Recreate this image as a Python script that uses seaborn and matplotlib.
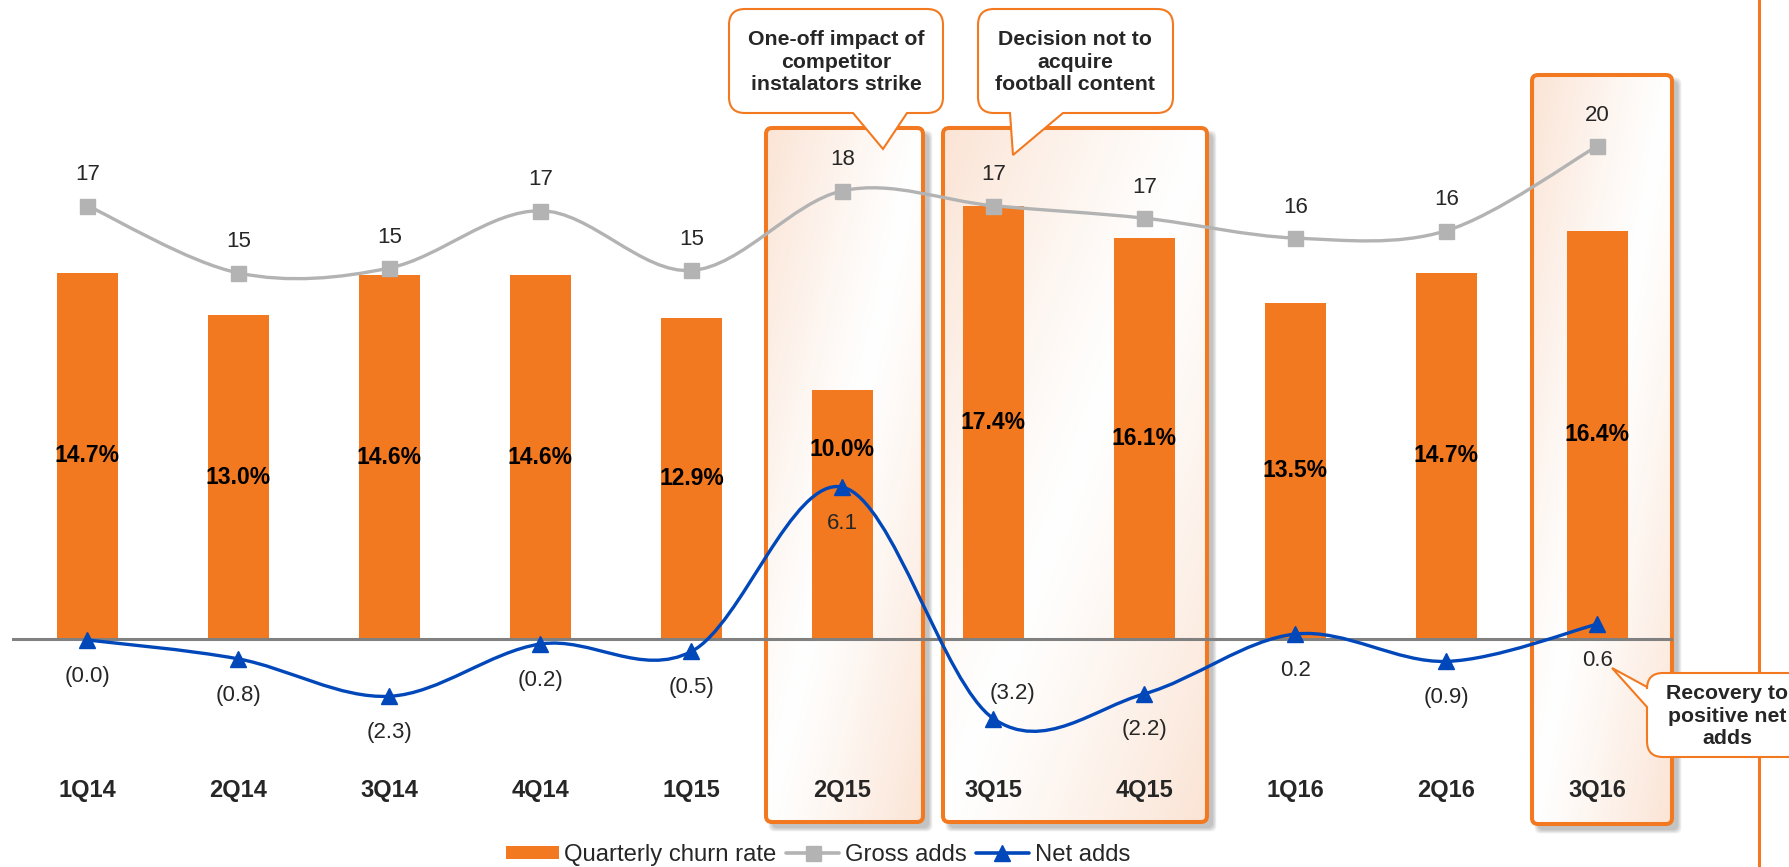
import numpy as np
import pandas as pd
import matplotlib
matplotlib.use("Agg")
import matplotlib.pyplot as plt
import seaborn as sns
from matplotlib.path import Path
from matplotlib.patches import PathPatch, FancyBboxPatch, Patch
from matplotlib.lines import Line2D

# ---- data -------------------------------------------------------------
quarters = ["1Q14", "2Q14", "3Q14", "4Q14", "1Q15", "2Q15",
            "3Q15", "4Q15", "1Q16", "2Q16", "3Q16"]
churn_rate = [14.7, 13.0, 14.6, 14.6, 12.9, 10.0, 17.4, 16.1, 13.5, 14.7, 16.4]
gross_adds = [17.4, 14.7, 14.9, 17.2, 14.8, 18.0, 17.4, 16.9, 16.1, 16.4, 19.8]
net_adds = [-0.04, -0.8, -2.3, -0.2, -0.5, 6.1, -3.2, -2.2, 0.2, -0.9, 0.6]

callout_texts = ["One-off impact of\ncompetitor\ninstalators strike",
                 "Decision not to\nacquire\nfootball content",
                 "Recovery to\npositive net\nadds"]

df = pd.DataFrame({"quarter": quarters, "churn": churn_rate,
                   "gross": gross_adds, "net": net_adds})

# ---- style ------------------------------------------------------------
ORANGE = "#F27920"
GRAY = "#B3B3B3"
BLUE = "#0047BA"
AXIS_GRAY = "#808080"
PEACH = np.array([0.984, 0.894, 0.835])

sns.set_style("white")
plt.rcParams["font.family"] = ["Liberation Sans", "DejaVu Sans"]

W, H = 1790, 867
fig = plt.figure(figsize=(W / 100, H / 100), dpi=100, facecolor="white")

# value scale: 24.9 px per unit, zero line at 639 px from the top
PX_PER_UNIT = 24.9
ZERO_PX = 639
ylim = (-(H - ZERO_PX) / PX_PER_UNIT, ZERO_PX / PX_PER_UNIT)

# background layer (highlight panels), pixel coordinates
ax_bg = fig.add_axes([0, 0, 1, 1], zorder=0)
ax_bg.set_xlim(0, W)
ax_bg.set_ylim(H, 0)
ax_bg.axis("off")

# main chart layer
ax = fig.add_axes([12 / W, 0, (1673 - 12) / W, 1], zorder=1)
ax.patch.set_alpha(0)

# foreground layer (callouts), pixel coordinates
ax_fg = fig.add_axes([0, 0, 1, 1], zorder=2)
ax_fg.set_xlim(0, W)
ax_fg.set_ylim(H, 0)
ax_fg.axis("off")


# ---- highlight panels -------------------------------------------------
def highlight(x0, y0, x1, y1):
    w, h = x1 - x0, y1 - y0
    for k in range(7):
        sh = FancyBboxPatch((x0 + 6 - k * 0.6, y0 + 6 - k * 0.6),
                            w + k * 1.2, h + k * 1.2,
                            boxstyle="round,pad=0,rounding_size=6",
                            facecolor="#000000", edgecolor="none",
                            alpha=0.035, zorder=1)
        ax_bg.add_patch(sh)
    box = FancyBboxPatch((x0, y0), w, h,
                         boxstyle="round,pad=0,rounding_size=6",
                         facecolor="white", edgecolor="none", zorder=2)
    ax_bg.add_patch(box)
    u = np.linspace(0, 1, 120)[None, :]
    v = np.linspace(0, 1, 300)[:, None]
    t = np.abs((u + v) - 1.0) ** 1.15
    img = 1 - t[..., None] * (1 - PEACH[None, None, :])
    im = ax_bg.imshow(img, extent=(x0, x1, y1, y0), origin="upper",
                      aspect="auto", zorder=3, interpolation="bilinear")
    im.set_clip_path(box)
    edge = FancyBboxPatch((x0, y0), w, h,
                          boxstyle="round,pad=0,rounding_size=6",
                          facecolor="none", edgecolor=ORANGE,
                          linewidth=2.9, zorder=4)
    ax_bg.add_patch(edge)


for rect in [(766, 128, 923, 822), (943, 128, 1207, 822), (1532, 75, 1672, 824)]:
    highlight(*rect)

# ---- bars -------------------------------------------------------------
sns.barplot(data=df, x="quarter", y="churn", color=ORANGE, saturation=1,
            width=0.4, ax=ax, zorder=2, edgecolor="none")
ax.set_xlim(-0.5, len(quarters) - 0.5)
ax.set_ylim(*ylim)
ax.set_xlabel("")
ax.set_ylabel("")
ax.set_xticks([])
ax.set_yticks([])
for s in ax.spines.values():
    s.set_visible(False)
ax.axhline(0, color=AXIS_GRAY, lw=2.2, zorder=3)

# churn labels (centred in the bar; 2Q15 lifted above the net-adds peak)
pct_label_y = {"2Q15": 7.6}
for i, (q, c) in enumerate(zip(quarters, churn_rate)):
    ax.text(i, pct_label_y.get(q, c / 2), f"{c:.1f}%", ha="center",
            va="center", fontsize=16.5, fontweight="bold", color="black",
            zorder=7)


# ---- smoothed lines ---------------------------------------------------
def smooth_path(xs, ys):
    P = np.column_stack([xs, ys]).astype(float)
    ext = np.vstack([P[0], P, P[-1]])
    verts = [P[0]]
    codes = [Path.MOVETO]
    for i in range(len(P) - 1):
        c1 = ext[i + 1] + (ext[i + 2] - ext[i]) / 6
        c2 = ext[i + 2] - (ext[i + 3] - ext[i + 1]) / 6
        verts += [c1, c2, ext[i + 2]]
        codes += [Path.CURVE4] * 3
    return Path(np.array(verts), codes)


xs = np.arange(len(quarters))
ax.add_patch(PathPatch(smooth_path(xs, gross_adds), fill=False,
                       edgecolor=GRAY, lw=2.4, zorder=4))
ax.add_patch(PathPatch(smooth_path(xs, net_adds), fill=False,
                       edgecolor=BLUE, lw=2.4, zorder=4))
ax.plot(xs, gross_adds, ls="none", marker="s", ms=10.8, color=GRAY,
        mec=GRAY, zorder=5)
ax.plot(xs, net_adds, ls="none", marker="^", ms=11.5, color=BLUE,
        mec=BLUE, zorder=5)

for i, g in enumerate(gross_adds):
    ax.annotate(f"{g:.0f}", (i, g), xytext=(0, 22.3), textcoords="offset points",
                ha="center", va="center", fontsize=16, zorder=7)


def fmt_net(v):
    return f"({abs(v):.1f})" if v < 0 else f"{v:.1f}"


# net-adds labels sit below the marker; 3Q15 goes above the dip
net_label_offset = {"3Q15": (13.7, 18)}
for i, (q, n) in enumerate(zip(quarters, net_adds)):
    ax.annotate(fmt_net(n), (i, n), xytext=net_label_offset.get(q, (0, -26)),
                textcoords="offset points", ha="center", va="center",
                fontsize=16, zorder=7)

# category labels
for i, q in enumerate(quarters):
    ax.text(i, (ZERO_PX - 791) / PX_PER_UNIT, q, ha="center", va="center",
            fontsize=17, fontweight="bold", zorder=7)


# ---- callouts ---------------------------------------------------------
def callout_path(x0, y0, x1, y1, r, side, b1, b2, tip):
    V, C = [], []

    def mv(p):
        V.append(p); C.append(Path.MOVETO)

    def ln(p):
        V.append(p); C.append(Path.LINETO)

    def cv(ctrl, p):
        V.extend([ctrl, p]); C.extend([Path.CURVE3, Path.CURVE3])

    mv((x0 + r, y0))
    ln((x1 - r, y0)); cv((x1, y0), (x1, y0 + r))
    ln((x1, y1 - r)); cv((x1, y1), (x1 - r, y1))
    if side == "bottom":
        ln((b2, y1)); ln(tip); ln((b1, y1))
    ln((x0 + r, y1)); cv((x0, y1), (x0, y1 - r))
    if side == "left":
        ln((x0, b2)); ln(tip); ln((x0, b1))
    ln((x0, y0 + r)); cv((x0, y0), (x0 + r, y0))
    V.append((x0 + r, y0)); C.append(Path.CLOSEPOLY)
    return Path(V, C)


ax_fg.axvline(1759, color=ORANGE, lw=2.2, zorder=1)

callouts = [
    ((729, 9, 943, 113), "bottom", 853, 907, (883, 149)),
    ((978, 9, 1173, 113), "bottom", 1010, 1063, (1013, 155)),
    ((1647, 673, 1810, 757), "left", 687, 707, (1612, 668)),
]
text_centres = [(836, 62), (1075, 62), (1727, 716)]
for (rect, side, b1, b2, tip), txt, (tx, ty) in zip(callouts, callout_texts,
                                                   text_centres):
    p = callout_path(*rect, 16, side, b1, b2, tip)
    ax_fg.add_patch(PathPatch(p, facecolor="white", edgecolor=ORANGE,
                              lw=1.5, zorder=3))
    ax_fg.text(tx, ty, txt, ha="center", va="center", fontsize=15.3,
               fontweight="bold", linespacing=1.25, zorder=4)

# ---- legend -----------------------------------------------------------
handles = [Patch(facecolor=ORANGE, edgecolor="none"),
           Line2D([], [], color=GRAY, lw=2.6, marker="s", ms=10.8),
           Line2D([], [], color=BLUE, lw=2.6, marker="^", ms=11.5)]
labels = ["Quarterly churn rate", "Gross adds", "Net adds"]
fig.legend(handles, labels, loc="center", bbox_to_anchor=(818 / W, 1 - 855 / H),
           ncol=3, frameon=False, fontsize=17.2, handlelength=2.2,
           handleheight=0.5, handletextpad=0.25, columnspacing=0.4,
           borderaxespad=0)

fig.savefig("out.png", dpi=100, facecolor="white")
